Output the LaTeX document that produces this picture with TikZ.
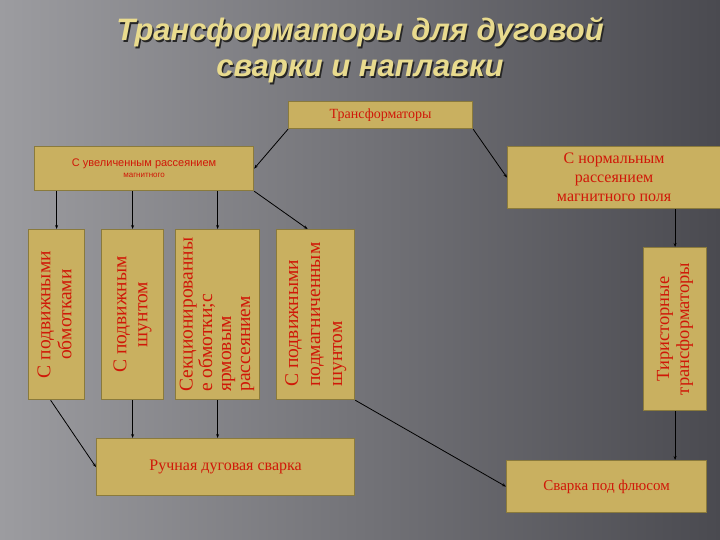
\documentclass[tikz,border=0pt]{standalone}
\usepackage{fontspec}
\usepackage{graphicx}
\setmainfont{Liberation Serif}
\newfontfamily\titlefont{Liberation Sans}
\usetikzlibrary{arrows.meta}
\definecolor{boxfill}{HTML}{C9B060}
\definecolor{boxline}{HTML}{8A7A3C}
\definecolor{txtred}{HTML}{D01808}
\definecolor{ttl}{HTML}{E9DB8E}
\definecolor{bgl}{HTML}{9C9CA0}
\definecolor{bgr}{HTML}{4A4A50}
\newcommand{\vtext}[1]{\rotatebox{90}{\begin{tabular}{@{}l@{}}#1\end{tabular}}}
\newcommand{\vtextc}[1]{\rotatebox{90}{\begin{tabular}{@{}c@{}}#1\end{tabular}}}
\begin{document}
\begin{tikzpicture}[x=1pt,y=-1pt,
  box/.style={draw=boxline,line width=1.2pt,fill=boxfill,text=txtred,inner sep=1pt,align=center,anchor=north west},
  arr/.style={-{Stealth[length=4pt,width=3pt]},black,line width=0.8pt}]
\shade[left color=bgl,right color=bgr] (0,0) rectangle (720,540);
\useasboundingbox (0,0) rectangle (720,540);
\node[text=black!85,font=\titlefont\bfseries\itshape\fontsize{31}{36}\selectfont,align=center] at (361.5,52) {Трансформаторы для дуговой\\сварки и наплавки};
\node[text=ttl,font=\titlefont\bfseries\itshape\fontsize{31}{36}\selectfont,align=center] (title) at (360,50) {Трансформаторы для дуговой\\сварки и наплавки};
\node[box,minimum width=184,minimum height=27,font=\fontsize{14}{16}\selectfont] (t) at (288,101) {Трансформаторы};
\node[box,minimum width=219,minimum height=44,font=\titlefont] (u) at (34,146) {{\fontsize{11}{13}\selectfont С увеличенным рассеянием}\\[-1pt]{\fontsize{8}{10}\selectfont магнитного}};
\node[box,minimum width=213,minimum height=62,font=\fontsize{16}{19}\selectfont] (n) at (507,146) {С нормальным\\рассеянием\\магнитного поля};
\node[box,minimum width=56,minimum height=170,font=\fontsize{19.5}{21}\selectfont] (b1) at (28,229) {\vtextc{С подвижными\\обмотками}};
\node[box,minimum width=62,minimum height=170,font=\fontsize{19.5}{21}\selectfont] (b2) at (101,229) {\vtextc{С подвижным\\шунтом}};
\node[box,minimum width=84,minimum height=170,font=\fontsize{19.5}{19}\selectfont] (b3) at (175,229) {\vtext{Секционированны\\е обмотки;с\\ярмовым\\рассеянием}};
\node[box,minimum width=78,minimum height=170,font=\fontsize{19.5}{22}\selectfont] (b4) at (276,229) {\vtext{С подвижными\\подмагниченным\\шунтом}};
\node[box,minimum width=63,minimum height=163,font=\fontsize{18.5}{20}\selectfont] (b5) at (643,247) {\vtextc{Тиристорные\\трансформаторы}};
\node[box,minimum width=258,minimum height=57,font=\fontsize{16}{18}\selectfont] (r) at (96,438) {Ручная дуговая сварка};
\node[box,minimum width=200,minimum height=52,font=\fontsize{15}{18}\selectfont] (s) at (506,460) {Сварка под флюсом};
\draw[arr] (t.south west) -- (u.east);
\draw[arr] (t.south east) -- (n.west);
\draw[arr] (u.south -| b1.north) -- (b1.north);
\draw[arr] (u.south -| b2.north) -- (b2.north);
\draw[arr] (u.south -| b3.north) -- (b3.north);
\draw[arr] (u.south east) -- ([xshift=-8pt]b4.north);
\draw[arr] (n.south -| b5.north) -- (b5.north);
\draw[arr] ([xshift=-6pt]b1.south) -- (r.west);
\draw[arr] (b2.south) -- (r.north -| b2.south);
\draw[arr] (b3.south) -- (r.north -| b3.south);
\draw[arr] (b4.south east) -- (s.west);
\draw[arr] (b5.south) -- (s.north -| b5.south);
\end{tikzpicture}
\end{document}
